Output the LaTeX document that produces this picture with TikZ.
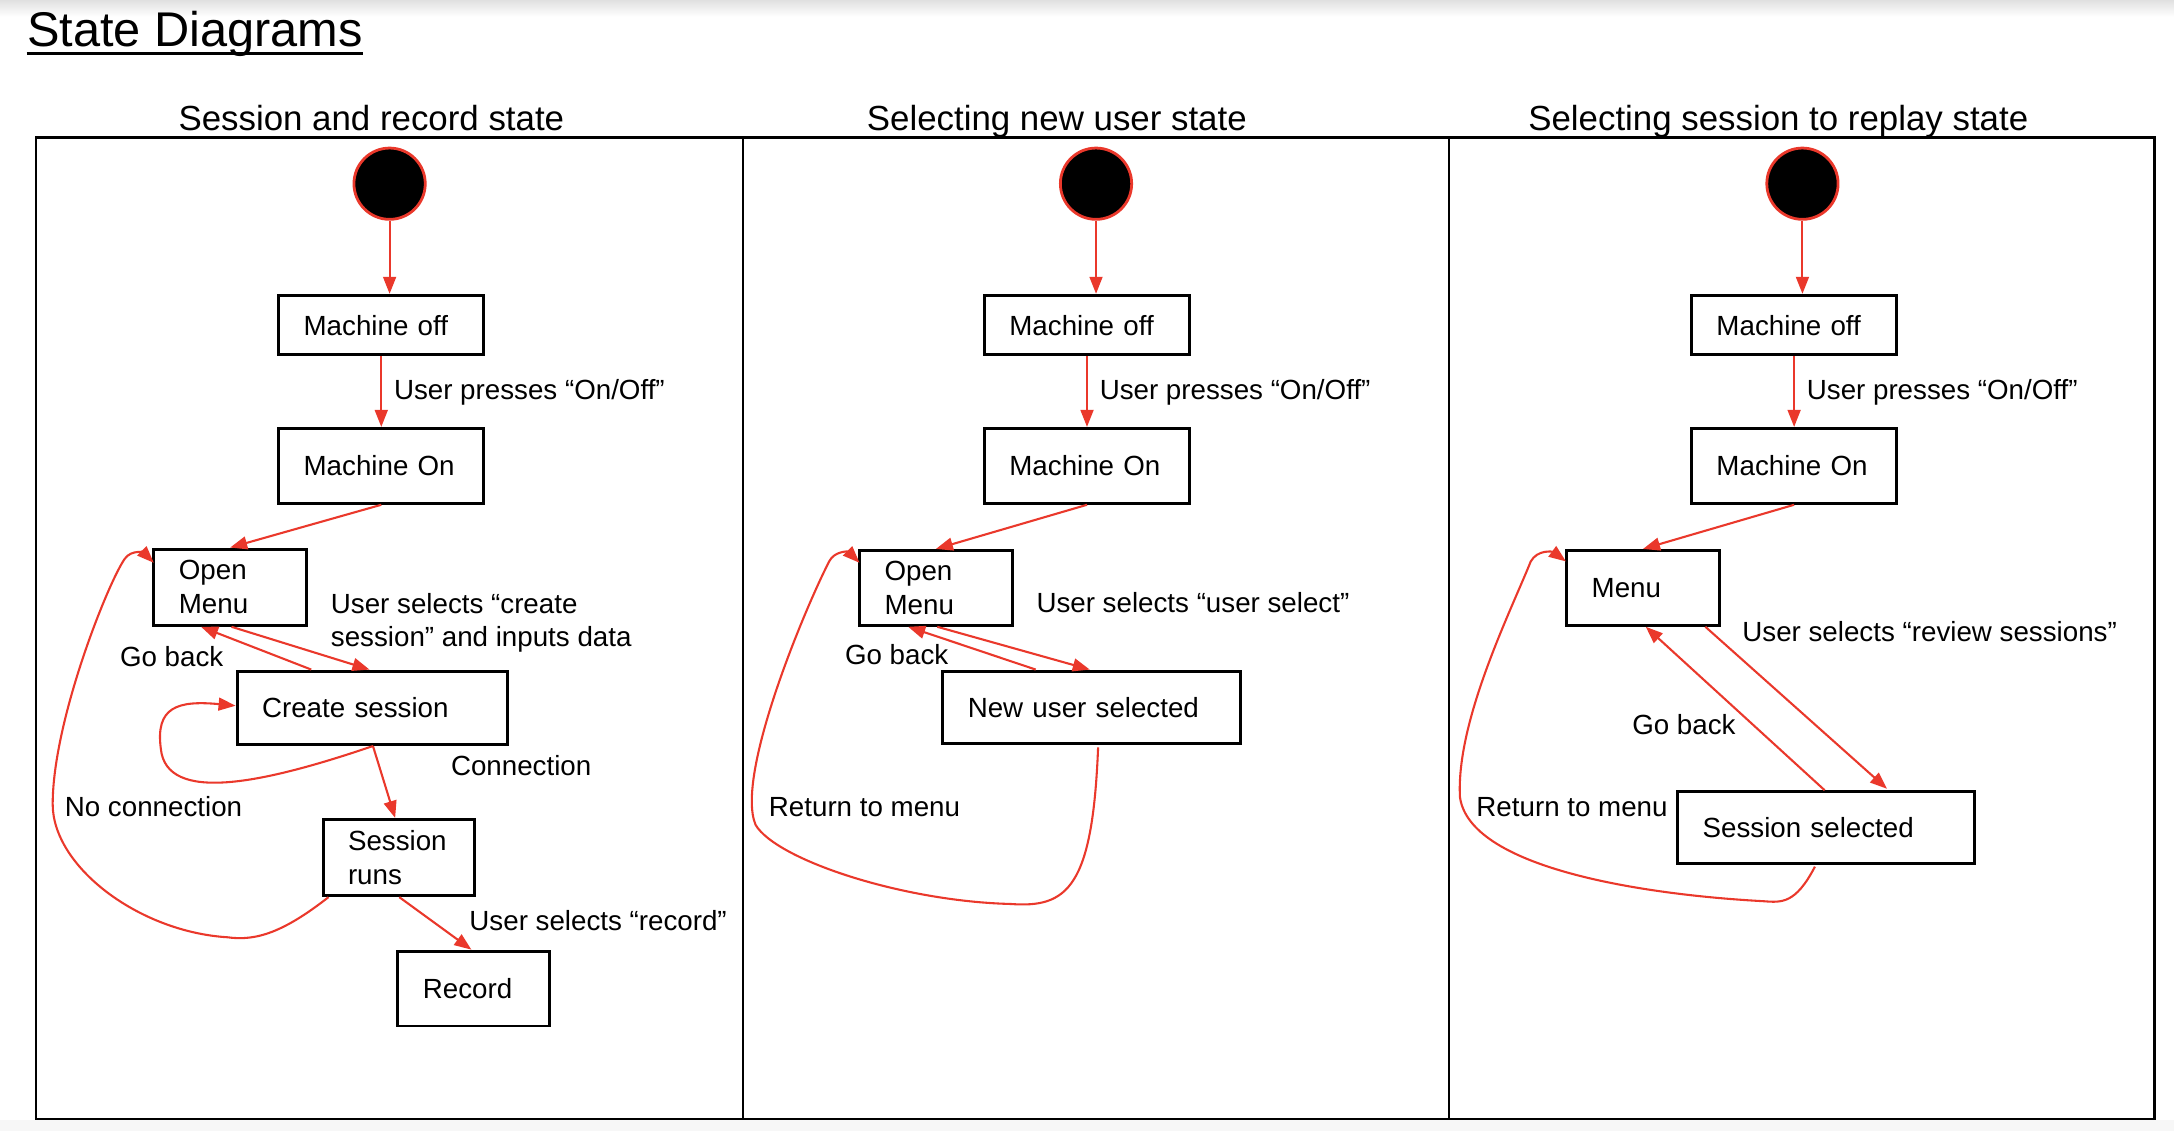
\documentclass[tikz,border=0pt]{standalone}
\usepackage{fontspec}
\setmainfont{Liberation Sans}
\usetikzlibrary{arrows.meta,calc}
\definecolor{arrred}{RGB}{234,56,43}
\begin{document}
\begin{tikzpicture}[x=0.7pt,y=-0.7pt,
  stbox/.style={draw, line width=1.5pt, align=left, inner xsep=12.6pt, inner ysep=0pt, font=\fontsize{14}{17.2}\selectfont},
  lbl/.style={inner sep=0pt, anchor=base west, align=left, font=\fontsize{14}{16.4}\selectfont},
  ptitle/.style={inner sep=0pt, anchor=base west, font=\fontsize{17.6}{21}\selectfont},
  tra/.style={draw=arrred, line width=1.05pt, -{Triangle[length=8.6pt,width=6.5pt]}},
  initst/.style={circle, fill=black, draw=arrred, line width=1.4pt, minimum size=36pt, inner sep=0pt},
  frm/.style={line width=1.3pt}
]
\useasboundingbox (0,0) rectangle (1568,816);
\fill[white] (0,0) rectangle (1568,816);
\shade[top color=black!12, bottom color=white] (0,0) rectangle (1568,12);
\fill[black!3] (0,808) rectangle (1568,816);

% title
\node[inner sep=0pt, anchor=base west, font=\fontsize{24.6}{28}\selectfont] (title) at (19.2,33.7) {State Diagrams};
\draw[line width=1.4pt] ($(title.base west)+(0,4.8)$) -- ($(title.base east)+(0,4.8)$);

% frame
\draw[frm] (26,99) rectangle (1554,807);
\draw[frm] (536,99) -- (536,807);
\draw[frm] (1045,99) -- (1045,807);

\node[ptitle] (pt1) at (128.5,94) {Session and record state};
\node[ptitle] (pt2) at (625,94) {Selecting new user state};
\node[ptitle] (pt3) at (1102,94) {Selecting session to replay state};

% ===== Panel 1 =====
\node[initst] (c1) at (281,132.5) {};
\node[stbox, text width=78.4pt, minimum height=30.1pt] (moff1) at (275,234.5) {Machine off};
\node[stbox, text width=78.4pt, minimum height=37.8pt] (mon1) at (275,336) {Machine On};
\node[stbox, text width=51.8pt, minimum height=38.5pt] (menu1) at (166,423.5) {Open\\Menu};
\node[stbox, text width=111.3pt, minimum height=37.1pt] (cs1) at (268.5,510.5) {Create session};
\node[stbox, text width=51.1pt, minimum height=38.5pt] (runs1) at (287.5,618.5) {Session\\runs};
\node[stbox, text width=51.1pt, minimum height=37.8pt] (rec1) at (341.5,713) {Record};

\draw[tra] (c1.south) -- (c1.south |- moff1.north);
\draw[tra] (moff1.south) -- (mon1.north);
\draw[tra] (mon1.south) -- (menu1.north);
\draw[tra] ($(menu1.south)+(1,0)$) -- ($(cs1.north)+(-2,0)$);
\draw[tra] ($(cs1.north)+(-44,0)$) -- ($(menu1.south)+(-21,0)$);
\draw[tra] ($(cs1.south)+(0.5,0)$) -- ($(runs1.north)+(-2.5,0)$);
\draw[tra] ($(runs1.south)+(0.5,0)$) -- ($(rec1.north)+(-1.5,0)$);
\draw[tra] ($(cs1.south)+(0.5,0)$) .. controls (190,565) and (120,580) .. (116,540)
  .. controls (112,510) and (128,505) .. ($(cs1.west)+(0,-1.5)$);
\draw[tra] ($(runs1.south west)+(5,0)$) .. controls (205,672) and (185,679) .. (164,676)
  .. controls (100,672) and (38,625) .. (38,580)
  .. controls (38,520) and (78,420) .. (90,403)
  .. controls (95,396) and (104,399) .. ($(menu1.north west)+(1,11)$);

\node[lbl] (l1a) at (283.9,288) {User presses “On/Off”};
\node[lbl] (l1b) at (238.4,466) {User selects “create\\session” and inputs data};
\node[lbl] (l1c) at (86.3,481) {Go back};
\node[lbl] (l1d) at (325,559.3) {Connection};
\node[lbl] (l1e) at (46.5,588.6) {No connection};
\node[lbl] (l1f) at (338.3,671) {User selects “record”};

% ===== Panel 2 =====
\node[initst] (c2) at (790.5,132.5) {};
\node[stbox, text width=78.4pt, minimum height=30.1pt] (moff2) at (784,234.5) {Machine off};
\node[stbox, text width=78.4pt, minimum height=37.8pt] (mon2) at (784,336) {Machine On};
\node[stbox, text width=51.8pt, minimum height=37.8pt] (menu2) at (675,424) {Open\\Menu};
\node[stbox, text width=125.3pt, minimum height=36.4pt] (nus2) at (787.5,510) {New user selected};

\draw[tra] (c2.south) -- (c2.south |- moff2.north);
\draw[tra] (moff2.south) -- (mon2.north);
\draw[tra] (mon2.south) -- (menu2.north);
\draw[tra] ($(menu2.south)+(1,0)$) -- ($(nus2.north)+(-1.5,0)$);
\draw[tra] ($(nus2.north)+(-40.5,0)$) -- ($(menu2.south)+(-20,0)$);
\draw[tra] ($(nus2.south)+(4.5,2)$) .. controls (788,640) and (770,655) .. (729,652)
  .. controls (650,650) and (560,620) .. (545,595)
  .. controls (530,560) and (580,440) .. (598,405)
  .. controls (602,397) and (612,398) .. ($(menu2.north west)+(1,10)$);

\node[lbl] (l2a) at (792.9,288) {User presses “On/Off”};
\node[lbl] (l2b) at (747.3,442) {User selects “user select”};
\node[lbl] (l2c) at (609.2,479.6) {Go back};
\node[lbl] (l2d) at (554.3,589) {Return to menu};

% ===== Panel 3 =====
\node[initst] (c3) at (1300,132.5) {};
\node[stbox, text width=78.4pt, minimum height=30.1pt] (moff3) at (1294,234.5) {Machine off};
\node[stbox, text width=78.4pt, minimum height=37.8pt] (mon3) at (1294,336) {Machine On};
\node[stbox, text width=51.8pt, minimum height=37.8pt] (menu3) at (1185,424) {Menu};
\node[stbox, text width=124.6pt, minimum height=36.4pt] (ss3) at (1317,597) {Session selected};

\draw[tra] (c3.south) -- (c3.south |- moff3.north);
\draw[tra] (moff3.south) -- (mon3.north);
\draw[tra] (mon3.south) -- (menu3.north);
\draw[tra] ($(menu3.south)+(45,0)$) -- ($(ss3.north)+(44,-1)$);
\draw[tra] ($(ss3.north)+(-1,0)$) -- ($(menu3.south)+(2,0)$);
\draw[tra] ($(ss3.south)+(-8,1)$) .. controls (1295,652) and (1285,651) .. (1272,650)
  .. controls (1180,645) and (1060,625) .. (1053,575)
  .. controls (1050,520) and (1090,440) .. (1104,405)
  .. controls (1109,396) and (1120,398) .. ($(menu3.north west)+(0.5,9)$);

\node[lbl] (l3a) at (1302.9,288) {User presses “On/Off”};
\node[lbl] (l3b) at (1256.4,462.8) {User selects “review sessions”};
\node[lbl] (l3c) at (1177,530) {Go back};
\node[lbl] (l3d) at (1064.6,588.6) {Return to menu};
\end{tikzpicture}
\end{document}
